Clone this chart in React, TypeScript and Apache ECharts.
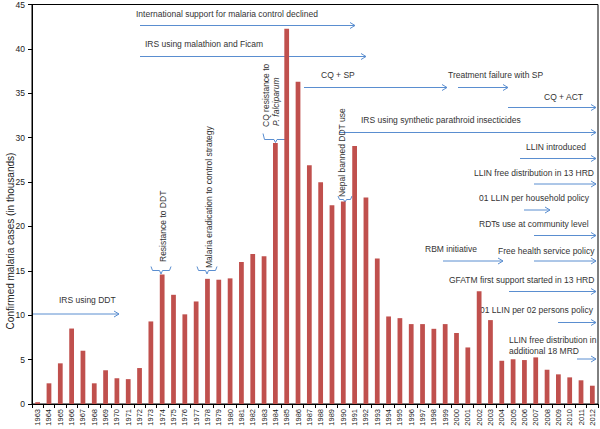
import React, { useEffect, useRef } from "react";
import * as echarts from "echarts";

const years = [
  "1963", "1964", "1965", "1966", "1967", "1968", "1969", "1970", "1971", "1972",
  "1973", "1974", "1975", "1976", "1977", "1978", "1979", "1980", "1981", "1982",
  "1983", "1984", "1985", "1986", "1987", "1988", "1989", "1990", "1991", "1992",
  "1993", "1994", "1995", "1996", "1997", "1998", "1999", "2000", "2001", "2002",
  "2003", "2004", "2005", "2006", "2007", "2008", "2009", "2010", "2011", "2012",
];

const cases = [
  0.2, 2.33, 4.58, 8.5, 6.0, 2.33, 3.8, 2.9, 2.8, 4.05,
  9.3, 14.6, 12.3, 10.1, 11.55, 14.1, 14.0, 14.15, 16.0, 16.9,
  16.65, 29.4, 42.27, 36.3, 26.9, 24.97, 22.4, 22.8, 29.06, 23.25,
  16.4, 9.86, 9.67, 9.0, 9.0, 8.47, 9.0, 8.0, 6.37, 12.7,
  9.45, 4.87, 5.03, 4.95, 5.25, 3.86, 3.34, 3.0, 2.67, 2.06,
];

const yTicks = { min: 0, max: 45, interval: 5 };

// annotation layout (pixel positions)
const arrowNotes = [
  { text: "International support for malaria control declined", tx: 136, ty: 14, ay: 25.5, x1: 140, x2: 355 },
  { text: "IRS using malathion and Ficam", tx: 145, ty: 44, ay: 56.5, x1: 140, x2: 366 },
  { text: "CQ + SP", tx: 321, ty: 75, ay: 87.5, x1: 304, x2: 447 },
  { text: "Treatment failure with SP", tx: 448, ty: 75, ay: 87.5, x1: 458, x2: 508 },
  { text: "CQ + ACT", tx: 544, ty: 97, ay: 107.5, x1: 508, x2: 596 },
  { text: "IRS using synthetic parathroid insecticides", tx: 361, ty: 119.5, ay: 132.5, x1: 339, x2: 596 },
  { text: "LLIN introduced", tx: 526, ty: 147, ay: 158.5, x1: 520, x2: 596 },
  { text: "LLIN free distribution in 13 HRD", tx: 474, ty: 172.5, ay: 184, x1: 534, x2: 596 },
  { text: "01 LLIN per household policy", tx: 479, ty: 198, ay: 210, x1: 524, x2: 550 },
  { text: "RDTs use at community level", tx: 479, ty: 223.5, ay: 235.5, x1: 534, x2: 596 },
  { text: "RBM initiative", tx: 425, ty: 249, ay: 261, x1: 443, x2: 503 },
  { text: "Free health service policy", tx: 498, ty: 251, ay: 261, x1: 534, x2: 596 },
  { text: "GFATM first support started in 13 HRD", tx: 449, ty: 279.5, ay: 291.5, x1: 509, x2: 596 },
  { text: "01 LLIN per 02 persons policy", tx: 480, ty: 309.5, ay: 322.5, x1: 558, x2: 596 },
  { text: "LLIN free distribution in\nadditional 18 MRD", tx: 509, ty: 345.5, ay: 359, x1: 577, x2: 596 },
  { text: "IRS using DDT", tx: 59, ty: 300, ay: 314, x1: 32, x2: 119 },
];

const verticalNotes = [
  { text: "Resistance to DDT", x: 162.5, y: 262, italic: false },
  { text: "Malaria eradication to control strategy", x: 209, y: 268, italic: false },
  { text: "CQ resistance to", x: 265.5, y: 127, italic: false },
  { text: "P. falciparum", x: 275.5, y: 126, italic: true },
  { text: "Nepal banned DDT use", x: 342, y: 197, italic: false },
];

const braces = [
  { x1: 151, x2: 171, top: 266.5, base: 270.5, tip: 274 },
  { x1: 197, x2: 217, top: 266.5, base: 270.5, tip: 274 },
  { x1: 263, x2: 288, top: 133.5, base: 139.5, tip: 142.5 },
  { x1: 338, x2: 352, top: 196, base: 199.5, tip: 202 },
];

const FONT = "'Liberation Sans', Arial, sans-serif";
const BLUE = "#5A8ED0";
const TEXT = "#333333";

export default function App() {
  const ref = useRef<HTMLDivElement>(null);

  useEffect(() => {
    if (!ref.current) return;
    const chart = echarts.init(ref.current, undefined, { renderer: "svg" });

    const graphics: any[] = [];
    arrowNotes.forEach((n) => {
      graphics.push({
        type: "text",
        x: n.tx,
        y: n.ty,
        style: {
          text: n.text,
          fill: TEXT,
          font: `8.5px ${FONT}`,
          textAlign: "left",
          textVerticalAlign: "middle",
          lineHeight: 11,
        },
      });
      graphics.push({
        type: "line",
        shape: { x1: n.x1, y1: n.ay, x2: n.x2, y2: n.ay },
        style: { stroke: BLUE, lineWidth: 1 },
      });
      graphics.push({
        type: "polyline",
        shape: {
          points: [
            [n.x2 - 5, n.ay - 3],
            [n.x2, n.ay],
            [n.x2 - 5, n.ay + 3],
          ],
        },
        style: { stroke: BLUE, lineWidth: 1, fill: "none" },
      });
    });
    verticalNotes.forEach((n) => {
      graphics.push({
        type: "text",
        x: n.x,
        y: n.y,
        rotation: Math.PI / 2,
        style: {
          text: n.text,
          fill: TEXT,
          font: `${n.italic ? "italic " : ""}8.5px ${FONT}`,
          textAlign: "left",
          textVerticalAlign: "middle",
        },
      });
    });
    braces.forEach((b) => {
      const xc = (b.x1 + b.x2) / 2;
      graphics.push({
        type: "polyline",
        shape: {
          points: [
            [b.x1, b.top],
            [b.x1 + 1.5, b.base],
            [xc - 1.5, b.base],
            [xc, b.tip],
            [xc + 1.5, b.base],
            [b.x2 - 1.5, b.base],
            [b.x2, b.top],
          ],
        },
        style: { stroke: BLUE, lineWidth: 1, fill: "none" },
      });
    });
    graphics.push({
      type: "text",
      x: 10,
      y: 241,
      rotation: Math.PI / 2,
      style: {
        text: "Confirmed malaria cases (in thousands)",
        fill: "#222",
        font: `10px ${FONT}`,
        textAlign: "center",
        textVerticalAlign: "middle",
      },
    });

    chart.setOption({
      animation: false,
      backgroundColor: "#ffffff",
      grid: {
        left: 32,
        right: 2,
        top: 4.5,
        bottom: 25,
        show: true,
        borderColor: "#000",
        borderWidth: 1,
        containLabel: false,
      },
      xAxis: {
        type: "category",
        data: years,
        boundaryGap: true,
        axisLine: { lineStyle: { color: "#000", width: 1 } },
        axisTick: { show: true, length: 4, interval: 0, lineStyle: { color: "#000" } },
        axisLabel: {
          interval: 0,
          rotate: 90,
          fontSize: 7.5,
          fontFamily: FONT,
          color: "#222",
          margin: 5,
        },
        splitLine: { show: false },
      },
      yAxis: {
        type: "value",
        min: yTicks.min,
        max: yTicks.max,
        interval: yTicks.interval,
        axisLine: { show: true, lineStyle: { color: "#000", width: 1 } },
        axisTick: { show: true, length: 4, lineStyle: { color: "#000" } },
        axisLabel: { fontSize: 8.5, fontFamily: FONT, color: "#222", margin: 7 },
        splitLine: { show: false },
      },
      series: [
        {
          type: "bar",
          data: cases,
          barWidth: "42%",
          itemStyle: { color: "#C0504D" },
        },
      ],
      graphic: graphics,
    });

    return () => chart.dispose();
  }, []);

  return (
    <div
      ref={ref}
      style={{ position: "fixed", left: 0, top: 0, width: 600, height: 429, background: "#fff" }}
    />
  );
}
